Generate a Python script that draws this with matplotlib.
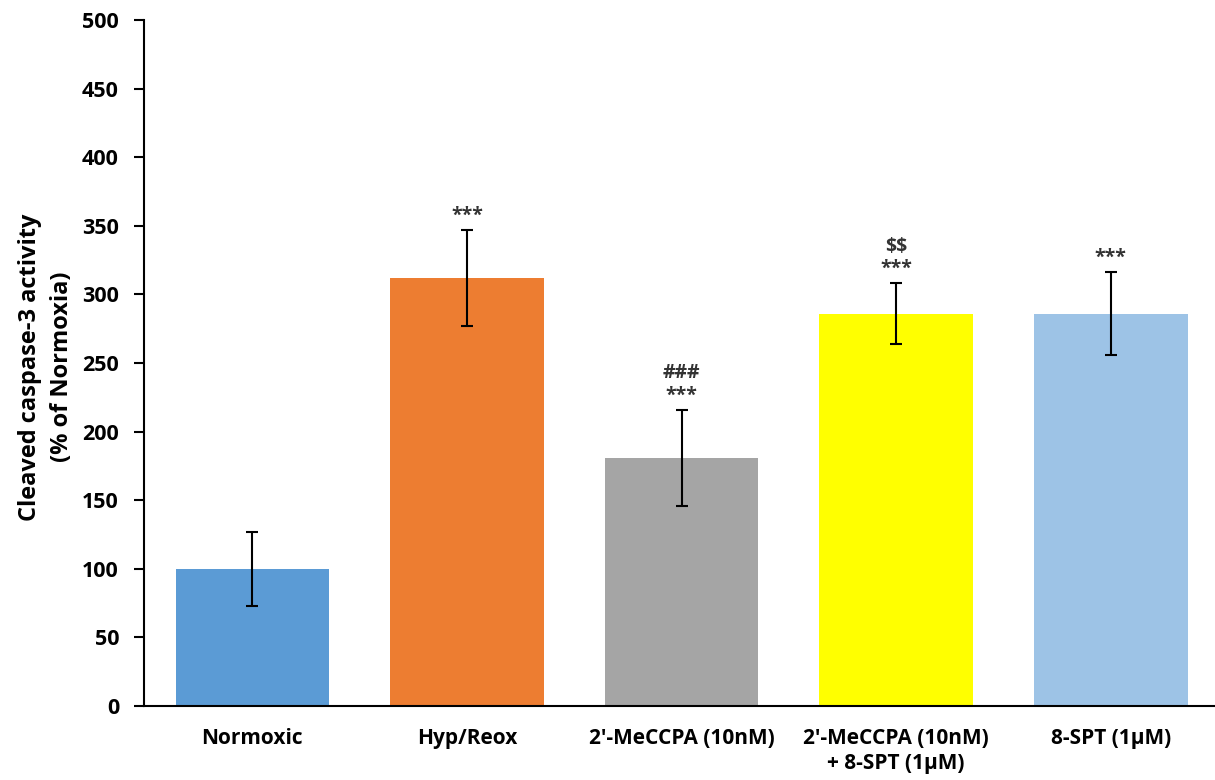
import matplotlib.pyplot as plt

plt.rcParams['font.family'] = ['Open Sans', 'DejaVu Sans']
plt.rcParams['text.parse_math'] = False

groups = ['Normoxic', 'Hyp/Reox', "2'-MeCCPA (10nM)", "2'-MeCCPA (10nM)\n+ 8-SPT (1\u00b5M)", '8-SPT (1\u00b5M)']
means = [100, 312, 181, 286, 286]
errs = [27, 35, 35, 22, 30]
colors = ['#5B9BD5', '#ED7D31', '#A5A5A5', '#FFFF00', '#9DC3E6']
marks = ['', '***', '###\n***', '$$\n***', '***']

fig = plt.figure(figsize=(12.15, 7.8), dpi=100)
ax = fig.add_axes([144/1215, 74/780, 1072/1215, 686/780])

x = range(len(groups))
ax.bar(x, means, width=0.715, color=colors)
ax.errorbar(x, means, yerr=errs, fmt='none', ecolor='black', elinewidth=1.5, capsize=4, capthick=1.5)

for i in x:
    if marks[i]:
        ax.annotate(marks[i], xy=(i, means[i] + errs[i]), xytext=(0, 3), textcoords='offset points',
                    ha='center', va='bottom', fontsize=14, fontweight='bold', color='#333333',
                    linespacing=1.15, parse_math=False)

ax.set_xlim(-0.505, 4.49)
ax.set_ylim(0, 500)
ax.set_yticks(range(0, 501, 50))
ax.set_xticks(list(x))
ax.set_xticklabels(groups, fontsize=15, fontweight='bold', va='top', linespacing=1.25)
ax.tick_params(axis='x', length=0, pad=16)
ax.tick_params(axis='y', length=7, width=1.5, labelsize=15.5, pad=11)
for lab in ax.get_yticklabels():
    lab.set_fontweight('bold')

ax.spines['top'].set_visible(False)
ax.spines['right'].set_visible(False)
ax.spines['left'].set_linewidth(1.5)
ax.spines['bottom'].set_linewidth(1.5)

fig.text(46/1215, 1 - 367/780, 'Cleaved caspase-3 activity\n(% of Normoxia)', rotation=90,
         ha='center', va='center', multialignment='center', fontsize=17, fontweight='bold', linespacing=1.45)

fig.savefig('out.png', dpi=100)
